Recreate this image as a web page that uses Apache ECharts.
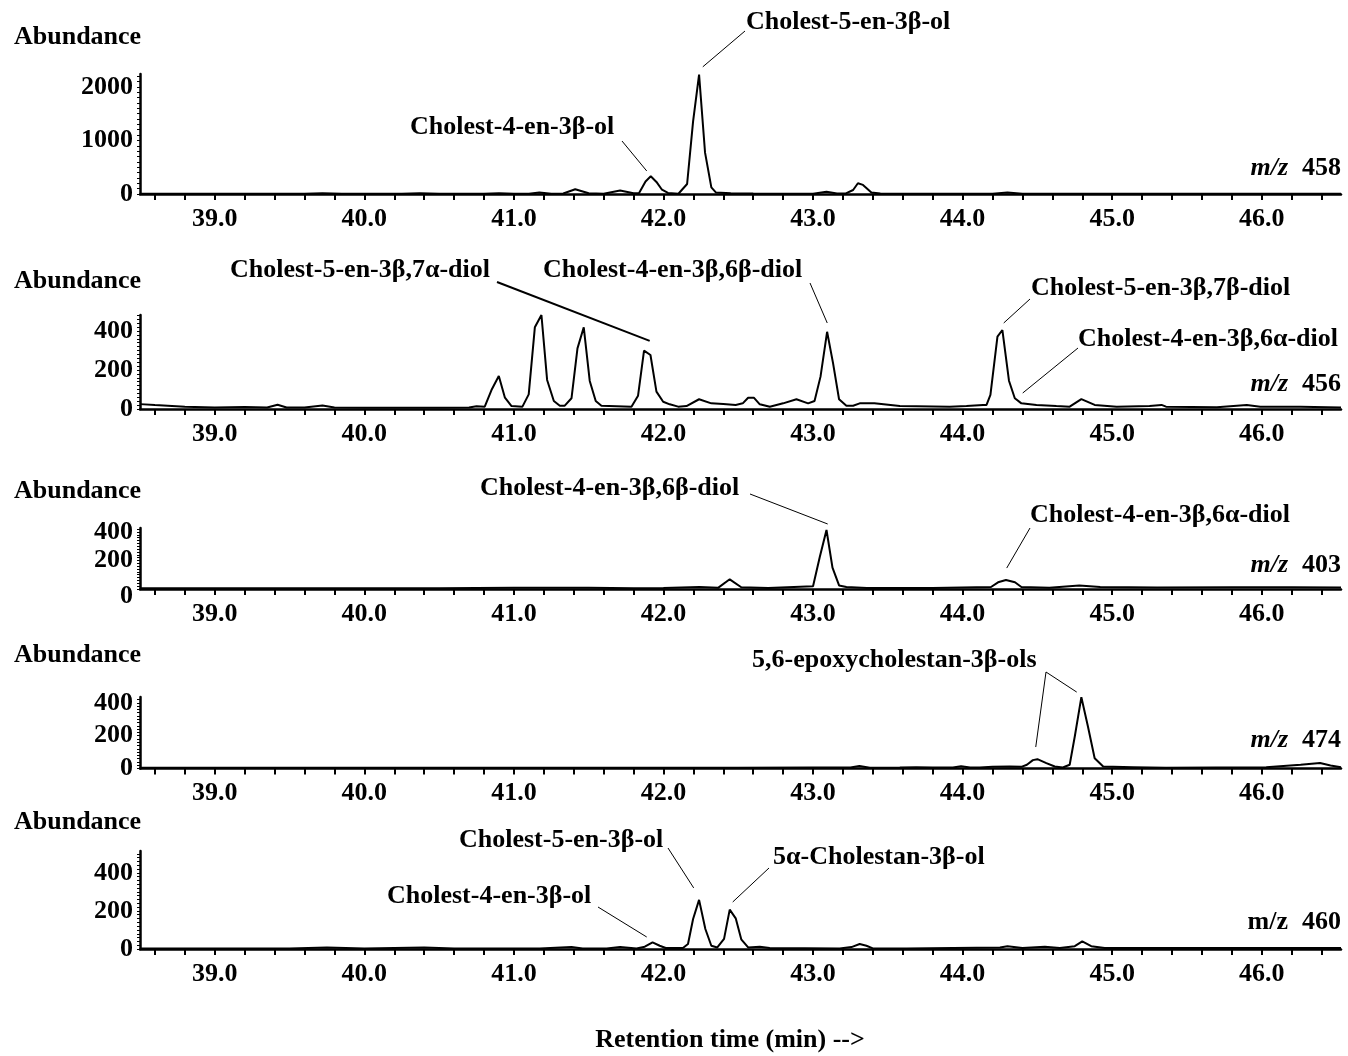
<!DOCTYPE html>
<html>
<head>
<meta charset="utf-8">
<script src="https://cdn.jsdelivr.net/npm/echarts@6/dist/echarts.min.js"></script>
<style>
html,body{margin:0;padding:0;background:#fff;}
#chart{width:1348px;height:1056px;}
</style>
</head>
<body>
<div id="chart"></div>
<script>
// ---- Data: retention time (min), abundance ----
const mz458 = [[38.5,3],[39.0,3],[39.6,3],[39.72,15],[39.85,3],[40.25,3],[40.37,15],[40.5,3],[40.8,3],[40.9,15],[41.0,3],[41.1,5],[41.17,30],[41.25,5],[41.33,10],[41.41,88],[41.5,15],[41.6,5],[41.71,65],[41.8,15],[41.837,20],[41.88,235],[41.915,330],[41.953,225],[41.99,80],[42.03,20],[42.1,5],[42.158,187],[42.198,1357],[42.238,2230],[42.278,772],[42.32,123],[42.35,30],[42.45,15],[42.6,8],[42.8,5],[43.0,5],[43.09,40],[43.16,10],[43.22,10],[43.268,75],[43.30,200],[43.334,170],[43.39,30],[43.45,10],[43.6,5],[44.2,5],[44.3,30],[44.4,5],[45.0,3],[46.0,3],[46.53,3]];
const mz456 = [[38.5,25],[38.6,20],[38.8,12],[39.0,8],[39.2,10],[39.35,8],[39.42,22],[39.48,8],[39.6,8],[39.72,18],[39.8,8],[40.0,6],[40.3,6],[40.5,6],[40.7,8],[40.75,14],[40.805,12],[40.85,97],[40.899,169],[40.94,58],[40.984,15],[41.057,12],[41.099,75],[41.14,419],[41.184,482],[41.222,149],[41.267,41],[41.307,17],[41.34,17],[41.385,55],[41.425,311],[41.467,419],[41.507,144],[41.547,41],[41.585,17],[41.786,12],[41.83,68],[41.87,299],[41.913,277],[41.953,89],[41.998,37],[42.042,24],[42.098,12],[42.154,15],[42.238,50],[42.32,29],[42.40,26],[42.483,21],[42.53,29],[42.566,58],[42.604,58],[42.644,24],[42.711,12],[42.80,29],[42.889,50],[42.967,29],[43.01,41],[43.05,166],[43.094,396],[43.134,234],[43.174,50],[43.223,17],[43.268,17],[43.312,29],[43.41,29],[43.58,15],[43.914,12],[44.026,15],[44.137,21],[44.16,21],[44.186,72],[44.233,371],[44.266,405],[44.31,145],[44.349,55],[44.393,29],[44.494,21],[44.627,15],[44.716,12],[44.794,51],[44.883,21],[45.03,12],[45.25,15],[45.33,21],[45.36,12],[45.70,9],[45.90,21],[45.99,12],[46.26,12],[46.53,8]];
const mz403 = [[38.5,5],[39.5,5],[40.5,6],[41.0,8],[41.5,8],[41.8,5],[42.0,7],[42.24,14],[42.365,8],[42.443,68],[42.52,12],[42.7,7],[43.0,20],[43.045,224],[43.09,414],[43.13,150],[43.174,25],[43.223,14],[43.36,7],[43.8,7],[44.19,14],[44.237,47],[44.29,63],[44.35,47],[44.393,14],[44.58,8],[44.78,25],[44.92,14],[45.3,10],[45.8,12],[46.2,12],[46.53,10]];
const mz474 = [[38.5,4],[39.5,4],[40.5,4],[41.0,5],[41.5,5],[42.0,5],[42.5,5],[43.0,6],[43.25,6],[43.31,15],[43.38,5],[43.58,6],[43.69,8],[43.80,6],[43.935,6],[43.99,14],[44.05,6],[44.115,6],[44.2,10],[44.315,12],[44.393,10],[44.43,23],[44.47,51],[44.50,57],[44.56,33],[44.616,12],[44.67,6],[44.716,23],[44.75,195],[44.794,435],[44.838,256],[44.883,63],[44.94,12],[45.14,8],[45.36,4],[46.03,8],[46.26,23],[46.39,33],[46.46,18],[46.53,8]];
const mz460 = [[38.5,3],[39.5,3],[39.75,8],[40.0,3],[40.4,8],[40.6,3],[41.173,3],[41.385,10],[41.46,3],[41.62,3],[41.71,10],[41.82,3],[41.875,12],[41.927,35],[41.975,17],[42.015,5],[42.13,5],[42.164,26],[42.198,158],[42.238,258],[42.28,105],[42.32,17],[42.36,8],[42.405,53],[42.443,207],[42.483,161],[42.52,51],[42.566,8],[42.644,12],[42.71,5],[43.178,3],[43.257,10],[43.312,26],[43.357,17],[43.40,3],[43.625,3],[44.25,8],[44.3,15],[44.4,5],[44.55,12],[44.65,5],[44.75,15],[44.8,40],[44.86,15],[44.95,5],[45.3,5],[46.0,5],[46.53,5]];

const seriesData = [mz458, mz456, mz403, mz474, mz460];
const ionLabels = ['458', '456', '403', '474', '460'];
const ionItalic = [true, true, true, true, false];
const xTickLabels = [39, 40, 41, 42, 43, 44, 45, 46];
const yTickLabels = [[0, 1000, 2000], [0, 200, 400], [0, 200, 400], [0, 200, 400], [0, 200, 400]];
const yMinorStep = [100, 20, 20, 20, 20];
const yMax = [2240, 482, 428, 436, 515];
const xMin = 38.5, xMax = 46.53;

// annotations: text, label pos (px), leader start (px), leader end (data coords)
const annotations = [
  {p:0, text:'Cholest-5-en-3β-ol', tx:746, ty:22, sx:745, sy:31, ex:42.263, ey:2374, w:1},
  {p:0, text:'Cholest-4-en-3β-ol', tx:410, ty:127, sx:622, sy:141, ex:41.888, ey:430, w:1},
  {p:1, text:'Cholest-5-en-3β,7α-diol', tx:230, ty:270, sx:497, sy:282, ex:41.908, ey:349, w:2},
  {p:1, text:'Cholest-4-en-3β,6β-diol', tx:543, ty:270, sx:810, sy:283, ex:43.095, ey:441, w:1},
  {p:1, text:'Cholest-5-en-3β,7β-diol', tx:1031, ty:288, sx:1030, sy:299, ex:44.275, ey:441, w:1},
  {p:1, text:'Cholest-4-en-3β,6α-diol', tx:1078, ty:339, sx:1078, sy:348, ex:44.402, ey:82, w:1},
  {p:2, text:'Cholest-4-en-3β,6β-diol', tx:480, ty:488, sx:750, sy:494, ex:43.098, ey:456, w:1},
  {p:2, text:'Cholest-4-en-3β,6α-diol', tx:1030, ty:515, sx:1030, sy:528, ex:44.295, ey:147, w:1},
  {p:3, text:'5,6-epoxycholestan-3β-ols', tx:752, ty:660, sx:1046, sy:672, ex:44.489, ey:131, w:1},
  {p:3, text:null, sx:1046, sy:672, ex:44.763, ey:466, w:1},
  {p:4, text:'Cholest-5-en-3β-ol', tx:459, ty:840, sx:668, sy:848, ex:42.202, ey:321, w:1},
  {p:4, text:'5α-Cholestan-3β-ol', tx:773, ty:857, sx:769, sy:868, ex:42.463, ey:247, w:1},
  {p:4, text:'Cholest-4-en-3β-ol', tx:387, ty:896, sx:598, sy:907, ex:41.888, ey:63, w:1}
];

// ---- Layout ----
const gridTops = [74, 315, 528, 697, 851];
const gridHeights = [120, 94, 61, 71.5, 98];
const abundanceY = [37, 281, 491, 655, 822];
const ionY = [168, 384, 565, 740, 922];
const FF = '"Liberation Serif", "Times New Roman", serif';
const FS = 26;

function range(a, b, s) { const r = []; for (let v = a; v <= b + 1e-9; v += s) r.push(Math.round(v * 1000) / 1000); return r; }
const xMinorTicks = range(38.6, 46.4, 0.2);

const chart = echarts.init(document.getElementById('chart'), null, {renderer: 'canvas'});

const grids = [], xAxes = [], yAxes = [], series = [];
for (let i = 0; i < 5; i++) {
  grids.push({left: 140, width: 1201, top: gridTops[i], height: gridHeights[i], containLabel: false});
  xAxes.push({
    type: 'value', gridIndex: i, min: xMin, max: xMax,
    axisLine: {show: true, onZero: false, lineStyle: {color: '#000', width: 2.5}},
    axisTick: {show: true, length: 6, lineStyle: {color: '#000', width: 2}, customValues: xMinorTicks},
    axisLabel: {show: true, customValues: xTickLabels, margin: 12, color: '#000',
      fontFamily: FF, fontWeight: 'bold', fontSize: FS, formatter: v => v.toFixed(1)},
    splitLine: {show: false}
  });
  yAxes.push({
    type: 'value', gridIndex: i, min: 0, max: yMax[i],
    axisLine: {show: true, lineStyle: {color: '#000', width: 2.5}},
    axisTick: {show: true, length: 3, lineStyle: {color: '#000', width: 1}, customValues: range(0, yMax[i], yMinorStep[i])},
    axisLabel: {show: true, customValues: yTickLabels[i], margin: 7, color: '#000',
      fontFamily: FF, fontWeight: 'bold', fontSize: FS,
      formatter: v => (i === 2 && v === 0) ? '{low|0}' : String(v),
      rich: {low: {fontFamily: FF, fontWeight: 'bold', fontSize: FS, color: '#000', padding: [14, 0, 0, 0]}}},
    splitLine: {show: false}
  });
  series.push({
    type: 'line', xAxisIndex: i, yAxisIndex: i, data: seriesData[i],
    showSymbol: false, symbol: 'none', smooth: false, animation: false,
    lineStyle: {color: '#000', width: 2}, z: 3
  });
}

chart.setOption({
  animation: false,
  backgroundColor: '#fff',
  grid: grids, xAxis: xAxes, yAxis: yAxes, series: series
});

// ---- Text and leader lines ----
const graphics = [];
for (let i = 0; i < 5; i++) {
  graphics.push({type: 'text', x: 14, y: abundanceY[i], style: {text: 'Abundance', font: 'bold ' + FS + 'px ' + FF, fill: '#000', textVerticalAlign: 'middle'}});
  graphics.push({type: 'text', x: 1341, y: ionY[i], style: {
    text: (ionItalic[i] ? '{i|m/z}' : '{b|m/z}') + '{n|' + ionLabels[i] + '}',
    align: 'right', verticalAlign: 'middle',
    rich: {
      i: {fontFamily: FF, fontStyle: 'italic', fontWeight: 'bold', fontSize: FS, fill: '#000'},
      b: {fontFamily: FF, fontWeight: 'bold', fontSize: FS, fill: '#000'},
      n: {fontFamily: FF, fontWeight: 'bold', fontSize: FS, fill: '#000', padding: [0, 0, 0, 14]}
    }
  }});
}
annotations.forEach(a => {
  if (a.text) {
    graphics.push({type: 'text', x: a.tx, y: a.ty, style: {text: a.text, font: 'bold ' + FS + 'px ' + FF, fill: '#000', textVerticalAlign: 'middle'}});
  }
  const e = chart.convertToPixel({xAxisIndex: a.p, yAxisIndex: a.p}, [a.ex, a.ey]);
  graphics.push({type: 'line', shape: {x1: a.sx, y1: a.sy, x2: e[0], y2: e[1]}, style: {stroke: '#000', lineWidth: a.w}});
});
graphics.push({type: 'text', x: 730, y: 1040, style: {text: 'Retention time (min) -->', font: 'bold ' + FS + 'px ' + FF, fill: '#000', textAlign: 'center', textVerticalAlign: 'middle'}});

chart.setOption({graphic: graphics});
</script>
</body>
</html>
